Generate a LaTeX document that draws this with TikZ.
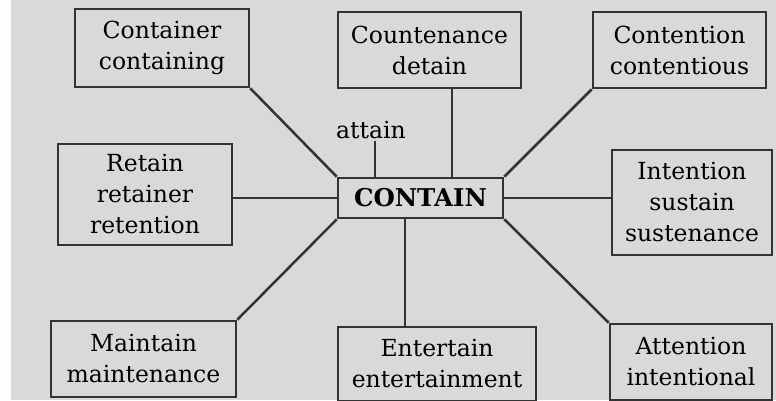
\documentclass[tikz,border=0pt]{standalone}
\usepackage{fontspec}
\setmainfont{DejaVu Serif}
\definecolor{bg}{HTML}{D9D9D9}
\definecolor{ln}{HTML}{333333}
\tikzset{
  wbox/.style={draw=ln, line width=2.7pt, rectangle, align=center, inner sep=0pt,
    font=\fontsize{23.5}{31}\selectfont, text=black},
  conn/.style={draw=ln, line width=2.5pt},
}
\begin{document}
\begin{tikzpicture}[x=1pt,y=-1pt]
\useasboundingbox (0,0) rectangle (776,400);
\fill[bg] (0,0) rectangle (776,400);
\fill[white!95!bg] (0,0) rectangle (11,400);
% nodes
\node[wbox, minimum width=174pt, minimum height=78pt] (cc) at (162,48) {Container\\containing};
\node[wbox, minimum width=183pt, minimum height=76pt] (cd) at (429.5,50) {Countenance\\detain};
\node[wbox, minimum width=173pt, minimum height=76pt] (ct) at (679.5,50) {Contention\\contentious};
\node[wbox, minimum width=174pt, minimum height=101pt] (rt) at (145,194.5) {Retain\\retainer\\retention};
\node[wbox, minimum width=165pt, minimum height=40pt, font=\fontsize{24.5}{28}\bfseries] (main) at (420.5,198) {CONTAIN};
\node[wbox, minimum width=160pt, minimum height=105pt] (is) at (692,202.5) {Intention\\sustain\\sustenance};
\node[wbox, minimum width=185pt, minimum height=76pt] (mm) at (143.5,359) {Maintain\\maintenance};
\node[wbox, minimum width=198pt, minimum height=74pt] (ee) at (437,364) {Entertain\\entertainment};
\node[wbox, minimum width=162pt, minimum height=76pt] (ai) at (691,362) {Attention\\intentional};
\node[font=\fontsize{23.5}{28}\selectfont, inner sep=2pt, anchor=south] (attain) at (371,141) {attain};
% connectors
\draw[conn] (cc.south east) -- (main.north west);
\draw[conn] ([xshift=22.5pt]cd.south) -- ([xshift=22.5pt]cd.south |- main.north);
\draw[conn] ([xshift=4pt]attain.south) -- ([xshift=4pt]attain.south |- main.north);
\draw[conn] (ct.south west) -- (main.north east);
\draw[conn] (main.west) -- (main.west -| rt.east);
\draw[conn] (main.east) -- (main.east -| is.west);
\draw[conn] (mm.north east) -- (main.south west);
\draw[conn] ([xshift=-32pt]ee.north) -- ([xshift=-32pt]ee.north |- main.south);
\draw[conn] (ai.north west) -- (main.south east);
\end{tikzpicture}
\end{document}
